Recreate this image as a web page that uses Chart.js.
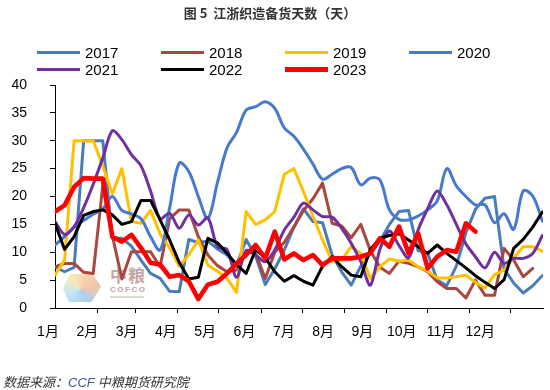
<!DOCTYPE html>
<html>
<head>
<meta charset="utf-8">
<script src="https://cdn.jsdelivr.net/npm/chart.js@4.4.0/dist/chart.umd.min.js"></script>
<style>
html,body{margin:0;padding:0;background:#fff;}
#wrap{position:relative;width:550px;height:390px;overflow:hidden;background:#fff;}
#c{position:absolute;left:0;top:0;z-index:2;}
#title{position:absolute;top:3px;left:0;width:540px;text-align:center;font:bold 13px 'Noto Sans CJK SC',sans-serif;color:#333;z-index:3;white-space:pre;}
#legend{position:absolute;left:37px;top:44px;display:grid;grid-template-columns:repeat(4,124px);grid-auto-rows:17px;z-index:3;}
.li{display:flex;align-items:center;font:15px 'Liberation Sans',Arial,sans-serif;color:#000;}
.li .ln{display:inline-block;width:43px;margin-right:5px;}
#src{position:absolute;left:3px;top:372px;font:italic 13px 'Noto Sans CJK SC',sans-serif;color:#333;z-index:3;white-space:pre;}
#src .ccf{color:#3f5a8c;font-family:'Liberation Sans',Arial,sans-serif;}
#wm{position:absolute;left:62px;top:262px;width:100px;height:42px;z-index:1;opacity:0.6;}
#wm .hex{position:absolute;left:1px;top:12px;width:38px;height:28px;clip-path:polygon(18% 0,78% 0,100% 45%,75% 100%,15% 100%,0 50%);background:conic-gradient(from 200deg at 45% 55%,#7fc4e8,#a9d8f0,#f3dc8a,#f6b77a,#e8a070,#7fb0e0,#7fc4e8);}
#wm .zl{position:absolute;left:48px;top:0;font:bold 17px 'Noto Sans CJK SC',sans-serif;color:#a06a6a;letter-spacing:1px;}
#wm .cf{position:absolute;left:48px;top:23px;font:bold 8px 'Liberation Sans',Arial,sans-serif;color:#8a6a6a;letter-spacing:1.5px;}
#wm .sm{position:absolute;left:48px;top:34px;width:34px;height:2px;background:#c8c8a8;}
</style>
</head>
<body>
<div id="wrap">
  <div id="title">图 5  江浙织造备货天数（天）</div>
  <div id="legend"></div>
  <div id="wm"><div class="hex"></div><div class="zl">中粮</div><div class="cf">COFCO</div><div class="sm"></div></div>
  <canvas id="c" width="550" height="390"></canvas>
  <div id="src">数据来源：<span class="ccf">CCF</span> 中粮期货研究院</div>
</div>
<script>
// weekly observation day-of-year
const weekDays = [0,7,14,21,28,35,42,49,56,63,70,77,84,91,98,105,112,119,126,133,140,147,154,161,168,175,182,189,196,203,210,217,224,231,238,245,252,259,266,273,280,287,294,301,308,315,322,329,336,343,350,357];

const y2017 = [7.4,6.5,7.3,30,30,30,12.5,12.5,11.1,8.6,6.2,5.3,3.0,2.9,12.3,11.7,12.0,10.6,9.5,7.6,12.3,9.3,4.2,7.0,10.4,14.5,17.8,15.5,15.3,9.5,6.5,4.1,7.5,9.8,12.0,15.0,17.3,17.5,10.3,9.8,5.0,4.0,7.5,13.5,17.7,19.7,20.0,7.0,4.5,2.7,4.0,5.8];
const y2018 = [7.4,8.0,8.0,6.4,6.2,22.0,13.0,5.2,10.1,10.1,10.1,7.4,16.0,17.6,17.6,12.8,9.5,7.6,6.5,6.8,10.1,9.8,5.3,10.0,11.8,14.5,17.5,19.6,22.4,15.2,14.7,12.6,15.0,10.3,7.3,6.2,8.4,8.0,7.4,6.5,4.7,3.5,3.5,1.8,5.0,2.3,2.3,10.7,8.6,5.6,7.1,null];
const y2019 = [5.9,8.6,30,30,30,25.5,20.5,25,15.5,15.2,17.5,13.3,10.8,7.5,9.5,12.2,7.7,6.6,5.3,2.8,17.3,15.0,15.8,17.3,24.0,25.0,20.9,16.5,12.2,8.3,8.6,11.0,9.8,5.3,7.4,8.8,8.4,8.6,7.4,6.6,5.4,5.4,5.6,5.9,4.6,3.6,6.0,6.8,9.0,11.0,11.0,10.2];
const y2020 = [11.3,12.8,14.5,15.7,16.8,17.8,20.0,17.5,16.9,16.0,12.8,10.4,18.0,26.0,24.5,20.0,16.1,22.5,28.7,31.5,35.5,36.1,37.0,35.8,32.3,30.8,28.5,25.8,23.1,24.0,25.0,25.2,22.1,23.3,23.0,17.6,15.9,15.8,16.5,17.6,19.2,25.0,21.9,20.0,18.5,18.5,15.3,16.9,14.1,21.0,20.1,15.6];
const y2021 = [15.5,13.2,14.6,18.0,22.2,26.9,31.8,30.2,27.5,25.5,21.0,16.0,17.0,14.3,16.7,14.9,16.2,11.0,10.5,5.5,10.3,9.5,8.3,10.4,14.0,16.3,18.8,17.6,16.4,16.3,14.3,11.6,8.3,4.1,10.5,13.8,11.2,9.0,14.0,17.8,21.0,18.5,15.0,11.5,9.2,7.2,10.0,8.0,8.9,8.9,9.8,13.0];
const y2022 = [15.2,10.5,12.8,16.6,17.3,17.6,16.7,15.0,15.5,19.3,19.3,15.8,12.2,8.2,5.2,5.5,12.5,11.7,9.8,7.8,6.2,10.5,9.0,6.5,4.8,5.8,4.8,4.1,7.5,9.2,7.4,5.9,5.6,10.5,12.5,13.0,13.3,12.2,11.0,9.8,11.3,9.8,8.5,7.2,5.8,4.6,3.5,5.1,10.7,12.3,14.5,17.2];
const y2023 = [17.3,18.4,21.7,23.3,23.2,23.2,12.8,11.9,13.1,10.8,8.1,7.8,5.6,5.9,4.8,1.6,4.2,4.7,6.2,8.0,9.5,11.3,8.9,13.7,8.7,9.8,8.6,9.5,7.7,8.9,8.9,8.9,9.2,9.8,12.5,11.0,14.6,9.8,13.4,7.1,9.2,10.4,10.1,15.2,13.7,null,null,null,null,null,null,null];

const seriesNames = ['2017','2018','2019','2020','2021','2022','2023'];
const seriesValues = [y2017,y2018,y2019,y2020,y2021,y2022,y2023];
const seriesColors = ['#4a7db8','#a8463f','#ffc000','#4679cf','#7030a0','#000000','#ff0000'];
const seriesWidths = [3,3,3,3,3,3,4.6];
const seriesTension = [0,0,0,0.35,0.3,0,0];

const monthStartDays = [31,59,90,120,151,181,212,243,273,304,334];
const monthLabels = ['1月','2月','3月','4月','5月','6月','7月','8月','9月','10月','11月','12月'];
const yTicks = [0,5,10,15,20,25,30,35,40];

// HTML legend
const lg = document.getElementById('legend');
seriesNames.forEach((n,i)=>{
  const d = document.createElement('div'); d.className='li';
  const l = document.createElement('span'); l.className='ln';
  l.style.height = (i===6?5:3)+'px'; l.style.background = seriesColors[i];
  d.appendChild(l); d.appendChild(document.createTextNode(n)); lg.appendChild(d);
});

const datasets = seriesNames.map((n,i)=>({
  label:n,
  data: seriesValues[i].map((v,k)=>({x:weekDays[k], y:v})),
  borderColor: seriesColors[i],
  backgroundColor: seriesColors[i],
  borderWidth: seriesWidths[i],
  pointRadius:0,
  tension: seriesTension[i],
  fill:false,
  spanGaps:false,
  borderJoinStyle:'round',
  borderCapStyle:'round',
  order: 6-i
}));

const axisFont = {family:"'Liberation Sans', Arial, 'Noto Sans CJK SC', sans-serif", size:14};

new Chart(document.getElementById('c'), {
  type:'line',
  data:{datasets},
  options:{
    responsive:false, animation:false, devicePixelRatio:1,
    layout:{padding:{top:85,left:5,right:7,bottom:47}},
    plugins:{legend:{display:false}, tooltip:{enabled:false}, title:{display:false}},
    scales:{
      x:{type:'linear', position:'bottom', weight:0, min:0, max:357.5, bounds:'data',
        grid:{display:true, drawOnChartArea:false, drawTicks:true, tickLength:5, color:'#000', lineWidth:1},
        border:{display:true, color:'#000', width:1},
        ticks:{display:false},
        afterBuildTicks:s=>{ s.ticks = monthStartDays.map(v=>({value:v})); },
        afterFit:s=>{ s.height = 5; }
      },
      xl:{type:'linear', position:'bottom', weight:1, min:0.178, max:12.596, bounds:'data',
        grid:{display:false, drawTicks:false, drawOnChartArea:false},
        border:{display:false},
        ticks:{padding:11, color:'#000', font:axisFont, maxRotation:0, autoSkip:false,
          callback:(v,i)=>monthLabels[i]},
        afterBuildTicks:s=>{ s.ticks = monthLabels.map((_,i)=>({value:i})); },
        afterFit:s=>{ s.height = 30; }
      },
      y:{type:'linear', min:0, max:40, bounds:'data',
        grid:{display:true, drawOnChartArea:false, drawTicks:true, tickLength:5, color:'#000', lineWidth:1},
        border:{display:true, color:'#000', width:1},
        ticks:{padding:23, color:'#000', font:axisFont, callback:v=>v},
        afterBuildTicks:s=>{ s.ticks = yTicks.map(v=>({value:v})); },
        afterFit:s=>{ s.width = 50; }
      }
    }
  }
});
</script>
</body>
</html>
